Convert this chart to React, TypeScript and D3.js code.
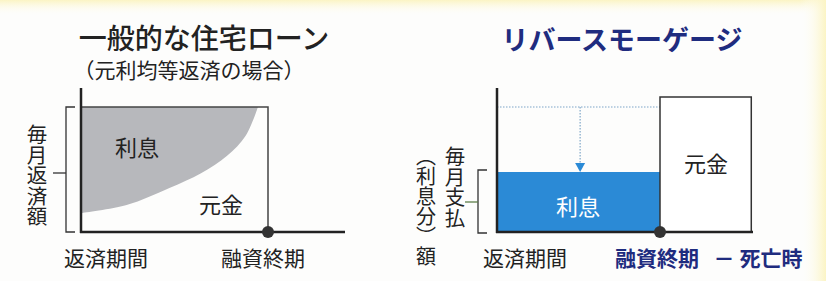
import * as d3 from "d3"

// left chart: standard loan (equal principal+interest payment)
const periods = [0, 0.24, 0.47, 0.64, 0.78, 0.88, 0.946]
const principalShare = [0.152, 0.216, 0.352, 0.47, 0.61, 0.77, 1.0]

// right chart: reverse mortgage
const fullPayment = 1.0
const interestLevel = 0.48
const principalLevel = 1.08
const loanEnd = 1
const deathTime = 1.56

const leftTitle = "一般的な住宅ローン"
const leftSubtitle = "（元利均等返済の場合）"
const leftYLabel = "毎月返済額"
const rightTitle = "リバースモーゲージ"
const rightYLabel1 = "毎月支払"
const rightYLabel2 = "（利息分）"
const rightYLabel3 = "額"

const FONT = "'Noto Sans CJK JP', 'Noto Sans', sans-serif"
const NAVY = "#1f2c7f"
const INK = "#222"

const App = () => {
	const xL = d3.scaleLinear().domain([0, 1]).range([82, 268])
	const yL = d3.scaleLinear().domain([0, 1]).range([232, 107])
	const xR = d3.scaleLinear().domain([0, 1]).range([497, 660])
	const yR = d3.scaleLinear().domain([0, 1]).range([232, 107])

	const pts = periods.map((t, i) => ({ t, p: principalShare[i] }))
	const area = d3
		.area<{ t: number; p: number }>()
		.x((d) => xL(d.t))
		.y0(yL(1))
		.y1((d) => yL(d.p))
		.curve(d3.curveCatmullRom.alpha(0.5))

	const arrowX = xR(0.51)
	const vert = { writingMode: "vertical-rl" as const }

	return (
		<svg width={826} height={281} style={{ position: "absolute", left: 0, top: 0 }} fontFamily={FONT}>
			<defs>
				<linearGradient id="topY" x1="0" y1="0" x2="0" y2="1">
					<stop offset="0" stopColor="#fbf4c4" />
					<stop offset="1" stopColor="#ffffff" stopOpacity={0} />
				</linearGradient>
				<linearGradient id="rightY" x1="0" y1="0" x2="1" y2="0">
					<stop offset="0" stopColor="#ffffff" stopOpacity={0} />
					<stop offset="1" stopColor="#fbf4c4" />
				</linearGradient>
			</defs>
			<rect width={826} height={281} fill="#fdfdfc" />
			<rect width={826} height={16} fill="url(#topY)" />
			<rect x={800} width={26} height={281} fill="url(#rightY)" />

			{/* ---------- left chart ---------- */}
			<text x={204} y={49} fontSize={28} fontWeight={500} textAnchor="middle" fill={INK}>
				{leftTitle}
			</text>
			<text x={189} y={78} fontSize={21} textAnchor="middle" fill={INK}>
				{leftSubtitle}
			</text>

			<path d={area(pts) ?? ""} fill="#b7b8bc" />
			<path
				d={`M${xL(0)},${yL(1)}H${xL(1)}V${yL(0)}`}
				fill="none"
				stroke="#444"
				strokeWidth={1.5}
			/>
			<text x={137} y={156} fontSize={22} textAnchor="middle" fill={INK}>
				利息
			</text>
			<text x={221} y={213} fontSize={22} textAnchor="middle" fill={INK}>
				元金
			</text>

			{/* axes */}
			<line x1={81} x2={81} y1={88} y2={233} stroke={INK} strokeWidth={2.5} />
			<line x1={80} x2={345} y1={232} y2={232} stroke={INK} strokeWidth={2.5} />
			<circle cx={xL(1)} cy={yL(0)} r={6} fill="#333" />

			{/* y bracket */}
			<path d={`M75,${yL(1)}H66V${yL(0)}H75`} fill="none" stroke="#333" strokeWidth={1.3} />
			<line x1={53} x2={66} y1={173} y2={173} stroke="#333" strokeWidth={1.3} />
			<text x={37} y={124} fontSize={20.5} style={vert} fill={INK}>
				{leftYLabel}
			</text>

			<text x={106} y={266} fontSize={21} textAnchor="middle" fill={INK}>
				返済期間
			</text>
			<text x={263} y={266} fontSize={21} textAnchor="middle" fill={INK}>
				融資終期
			</text>

			{/* ---------- right chart ---------- */}
			<text x={622} y={50} fontSize={27} fontWeight={700} textAnchor="middle" fill={NAVY}>
				{rightTitle}
			</text>

			<line
				x1={xR(0)}
				x2={xR(loanEnd)}
				y1={yR(fullPayment)}
				y2={yR(fullPayment)}
				stroke="#7fa6c8"
				strokeWidth={1.2}
				strokeDasharray="1.5 1.5"
			/>
			<line
				x1={arrowX}
				x2={arrowX}
				y1={yR(fullPayment)}
				y2={yR(interestLevel) - 6}
				stroke="#7fa6c8"
				strokeWidth={1.2}
				strokeDasharray="1.5 1.5"
			/>
			<path
				d={`M${arrowX - 5},${yR(interestLevel) - 9}L${arrowX + 5},${yR(interestLevel) - 9}L${arrowX},${yR(interestLevel)}Z`}
				fill="#2b8ad6"
			/>

			<rect
				x={xR(0)}
				y={yR(interestLevel)}
				width={xR(loanEnd) - xR(0)}
				height={yR(0) - yR(interestLevel)}
				fill="#2b8ad6"
			/>
			<rect
				x={xR(loanEnd)}
				y={yR(principalLevel)}
				width={xR(deathTime) - xR(loanEnd)}
				height={yR(0) - yR(principalLevel)}
				fill="#fff"
				stroke="#333"
				strokeWidth={1.5}
			/>
			<text x={578} y={215} fontSize={22} textAnchor="middle" fill="#fff">
				利息
			</text>
			<text x={706} y={172} fontSize={22} textAnchor="middle" fill={INK}>
				元金
			</text>

			<line x1={497} x2={497} y1={88} y2={233} stroke={INK} strokeWidth={2.5} />
			<line x1={496} x2={753} y1={232} y2={232} stroke={INK} strokeWidth={2.5} />
			<circle cx={xR(loanEnd)} cy={yR(0)} r={6} fill="#333" />

			<path d={`M487,170H478V233H487`} fill="none" stroke="#333" strokeWidth={1.3} />
			<line x1={465} x2={478} y1={202} y2={202} stroke="#5d7f4a" strokeWidth={1.3} />
			<text x={455} y={146} fontSize={20.5} style={vert} fill={INK}>
				{rightYLabel1}
			</text>
			<text x={426} y={146} fontSize={20} style={vert} fill={INK}>
				{rightYLabel2}
			</text>
			<text x={426} y={264} fontSize={20} textAnchor="middle" fill={INK}>
				{rightYLabel3}
			</text>

			<text x={525} y={266} fontSize={21} textAnchor="middle" fill={INK}>
				返済期間
			</text>
			<text x={657} y={266} fontSize={21} fontWeight={700} textAnchor="middle" fill={NAVY}>
				融資終期
			</text>
			<text x={758} y={266} fontSize={21} fontWeight={700} textAnchor="middle" fill={NAVY}>
				－ 死亡時
			</text>
		</svg>
	)
}

export default App
